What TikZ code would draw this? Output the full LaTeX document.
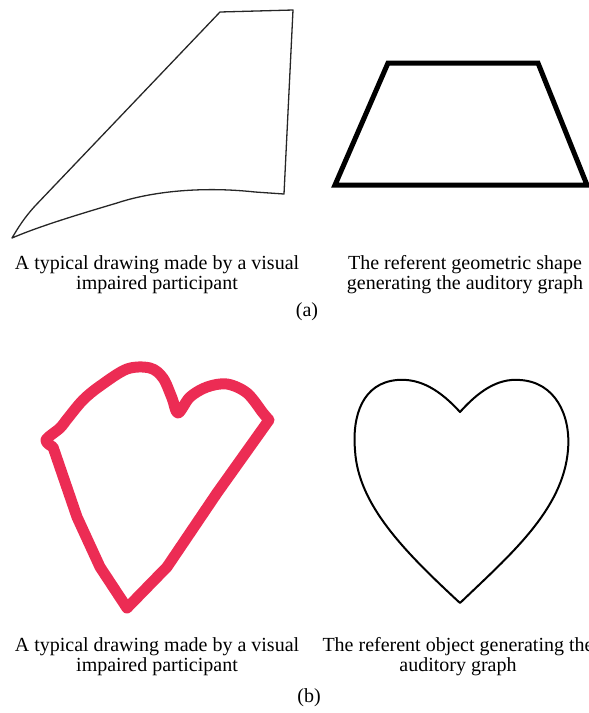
\documentclass[tikz,border=0pt]{standalone}
\usepackage{fontspec}
\setmainfont{Liberation Serif}
\definecolor{marker}{RGB}{236,44,84}
\begin{document}
\begin{tikzpicture}[x=1pt,y=-1pt,
  captext/.style={align=center,font=\fontsize{20}{20}\selectfont,inner sep=0pt},
  sublabel/.style={font=\fontsize{20}{20}\selectfont,inner sep=0pt},
  sketch/.style={line width=1.3pt,line join=round,black!85},
  refshape/.style={line width=5pt,line join=miter},
  redline/.style={marker,line width=11pt,line join=round,line cap=round},
  heartline/.style={line width=2pt,line join=round}]
\useasboundingbox (0,0) rectangle (589,713);
\clip (0,0) rectangle (589,713);
% (a) hand drawing
\draw[sketch] (220,12) -- (293,10) -- (284,194) -- (255,192)
  .. controls (200,186) and (150,192) .. (117,203)
  .. controls (80,214) and (40,226) .. (12,238)
  .. controls (18,228) and (24,218) .. (35,206) -- cycle;
% (a) trapezoid
\draw[refshape] (388,63) -- (538,63) -- (587,185) -- (335,185) -- cycle;
% captions (a)
\node[captext] (capa1) at (157,275) {A typical drawing made by a visual\\impaired participant};
\node[captext] (capa2) at (465,275) {The referent geometric shape\\generating the auditory graph};
\node[sublabel] (la) at (307,312) {(a)};
% (b) red hand-drawn heart
\draw[redline] plot[smooth,tension=0.55] coordinates {(53,447) (46,440) (60,428) (68,418) (83,400) (100,386) (127,369) (150,368) (163,378) (172,398) (178,413) (190,397) (207,387) (227,384) (247,393) (263,413) (269,420)}
  -- (217,493) -- (167,567) -- (127,608) -- (100,567) -- (77,517) -- (53,447);
% (b) reference heart
\draw[heartline] (460,412) .. controls (440,390) and (420,378) .. (397,380)
  .. controls (363,383) and (352,415) .. (355,450)
  .. controls (358,505) and (405,552) .. (460,603)
  .. controls (510,555) and (563,510) .. (568,450)
  .. controls (571,415) and (555,382) .. (520,380)
  .. controls (497,378) and (478,392) .. (460,412) -- cycle;
% captions (b)
\node[captext] (capb1) at (157,657) {A typical drawing made by a visual\\impaired participant};
\node[captext] (capb2) at (458,657) {The referent object generating the\\auditory graph};
\node[sublabel] (lb) at (309,698) {(b)};
\end{tikzpicture}
\end{document}
